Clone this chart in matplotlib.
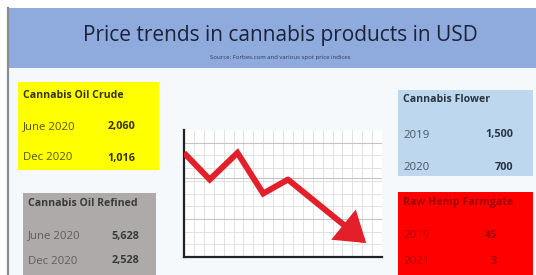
import matplotlib
matplotlib.use("Agg")
import matplotlib.pyplot as plt
from matplotlib.patches import Rectangle

# ---- data ----
title = "Price trends in cannabis products in USD"
subtitle = "Source: Forbes.com and various spot price indices"

box_titles = ["Cannabis Oil Crude", "Cannabis Oil Refined", "Cannabis Flower", "Raw Hemp Farmgate"]
crude_labels = ["June 2020", "Dec 2020"]
crude_values = ["2,060", "1,016"]
refined_labels = ["June 2020", "Dec 2020"]
refined_values = ["5,628", "2,528"]
flower_labels = ["2019", "2020"]
flower_values = ["1,500", "700"]
hemp_labels = ["2019", "2021"]
hemp_values = ["45", "3"]

trend_x = [0, 1.3, 2.7, 4.0, 5.25, 9.2]
trend_y = [8.2, 6.1, 8.2, 5.0, 6.1, 1.1]

# ---- figure ----
W, H = 536, 275
fig = plt.figure(figsize=(W / 100, H / 100), dpi=100)
fig.patch.set_facecolor("white")
bg = fig.add_axes([0, 0, 1, 1])
bg.set_xlim(0, W)
bg.set_ylim(H, 0)
bg.axis("off")

FONT = "Open Sans"

# lower background
bg.add_patch(Rectangle((7, 68), W - 7, H - 68, facecolor="#F6F9FC", edgecolor="none"))
# banner
bg.add_patch(Rectangle((7, 8), W - 7, 60, facecolor="#8FAADC", edgecolor="none"))
# left border line
bg.plot([7.5, 7.5], [8, H], color="#8C8C8C", lw=1.6)

bg.text(280, 36, title, ha="center", va="center", fontsize=15, family=FONT, color="#1C2238")
bg.text(280, 57, subtitle, ha="center", va="center", fontsize=4.3, family=FONT, color="#2F3A5A")

boxes = [
    # x0, y0, x1, y1, color, title color, labels, values, title y, row ys, value right x, label color
    (18, 82, 159, 170, "#FFFF00", "#333300", crude_labels, crude_values, 95, [127, 158], 135, "#555500"),
    (23, 193, 156, 280, "#AEAAAA", "#3A3A3A", refined_labels, refined_values, 204, [236, 261], 139, "#5E5E5E"),
    (398, 90, 533, 176, "#BDD7EE", "#2A3440", flower_labels, flower_values, 100, [135, 167], 513, "#4A5560"),
    (398, 192, 533, 280, "#FF0000", "#A00000", hemp_labels, hemp_values, 203, [236, 261], 497, "#B80000"),
]
for i, (x0, y0, x1, y1, col, tcol, labs, vals, ty, rys, vx, lcol) in enumerate(boxes):
    bg.add_patch(Rectangle((x0, y0), x1 - x0, y1 - y0, facecolor=col, edgecolor="none"))
    bg.text(x0 + 5, ty, box_titles[i], ha="left", va="center", fontsize=7.6,
            fontweight="bold", family=FONT, color=tcol)
    for lab, val, ry in zip(labs, vals, rys):
        bg.text(x0 + 5, ry, lab, ha="left", va="center", fontsize=8.2, family=FONT, color=lcol)
        bg.text(vx, ry, val, ha="right", va="center", fontsize=7.8, fontweight="bold",
                family=FONT, color=tcol)

# ---- trend chart ----
ax = fig.add_axes([184 / W, 1 - 257 / H, 198 / W, 127 / H])
ax.set_facecolor("white")
ax.set_xlim(0, 10)
ax.set_ylim(0, 10)
for v in [i * 0.5 for i in range(1, 20)]:
    ax.axvline(v, color="#DCDCDC", lw=0.6, zorder=0)
for v in range(1, 10):
    ax.axhline(v, color="#DCDCDC", lw=0.6, zorder=0)
for v in [3, 6.2, 9]:
    ax.axhline(v, color="#C4C4C4", lw=0.8, zorder=0)
for s in ["top", "right"]:
    ax.spines[s].set_visible(False)
for s in ["left", "bottom"]:
    ax.spines[s].set_color("#222222")
    ax.spines[s].set_linewidth(1.6)
ax.set_xticks([])
ax.set_yticks([])

red = "#E3202A"
ax.plot(trend_x[:-1], trend_y[:-1], color=red, lw=4.3, solid_joinstyle="miter",
        solid_capstyle="butt", zorder=3)
ax.annotate("", xy=(trend_x[-1], trend_y[-1]), xytext=(trend_x[-2], trend_y[-2]),
            arrowprops=dict(arrowstyle="-|>,head_length=0.75,head_width=0.5", lw=4.3,
                            color=red, mutation_scale=20, shrinkA=0, shrinkB=0,
                            joinstyle="miter"), zorder=3)

fig.savefig("out.png", dpi=100)
